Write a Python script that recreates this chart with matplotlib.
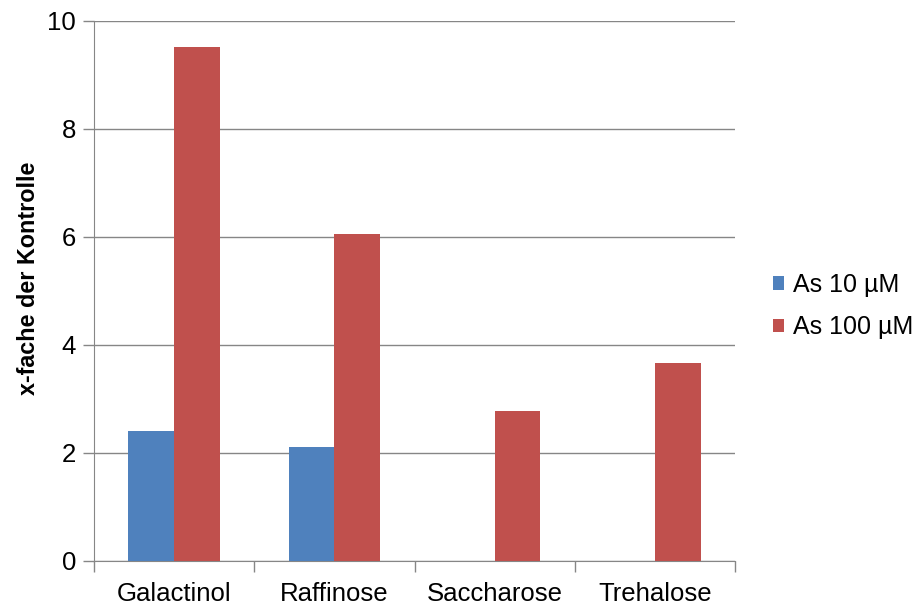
import matplotlib.pyplot as plt
import numpy as np

plt.rcParams['font.family'] = ['Liberation Sans', 'DejaVu Sans']

zucker = ['Galactinol', 'Raffinose', 'Saccharose', 'Trehalose']
as10 = [2.41, 2.12, 0, 0]
as100 = [9.52, 6.06, 2.78, 3.67]

fig = plt.figure(figsize=(9.17, 6.04), dpi=100)
ax = fig.add_axes([94/917, 43/604, 641/917, 540/604])

x = np.arange(len(zucker))
w = 0.286
ax.bar(x - w/2, as10, w, color='#4F81BD', label='As 10 µM', zorder=3)
ax.bar(x + w/2, as100, w, color='#C0504D', label='As 100 µM', zorder=3)

ax.set_xlim(-0.5, 3.5)
ax.set_ylim(0, 10)
ax.set_yticks(range(0, 11, 2))
ax.yaxis.grid(True, color='#868686', linewidth=1, zorder=0)

# Kategorie-Ticks zwischen den Gruppen
ax.set_xticks(np.arange(-0.5, 4, 1))
ax.set_xticklabels([])
ax.set_xticks(x, minor=True)
ax.set_xticklabels(zucker, minor=True, fontsize=18.5)
ax.tick_params(axis='x', which='major', length=8, color='#868686', width=1)
ax.tick_params(axis='x', which='minor', length=0, pad=15)
ax.tick_params(axis='y', length=8, color='#868686', width=1, labelsize=18.5, pad=5)

for s in ['top', 'right']:
    ax.spines[s].set_visible(False)
for s in ['left', 'bottom']:
    ax.spines[s].set_color('#868686')

ax.set_ylabel('x-fache der Kontrolle', fontsize=16.8, fontweight='bold')
ax.yaxis.set_label_coords(-0.085, 0.524)

ax.legend(loc='center left', bbox_to_anchor=(1.04, 0.472), frameon=False,
          fontsize=18, handlelength=0.45, handleheight=0.45, handletextpad=0.35,
          labelspacing=0.75, borderpad=0)

fig.savefig('out.png')
